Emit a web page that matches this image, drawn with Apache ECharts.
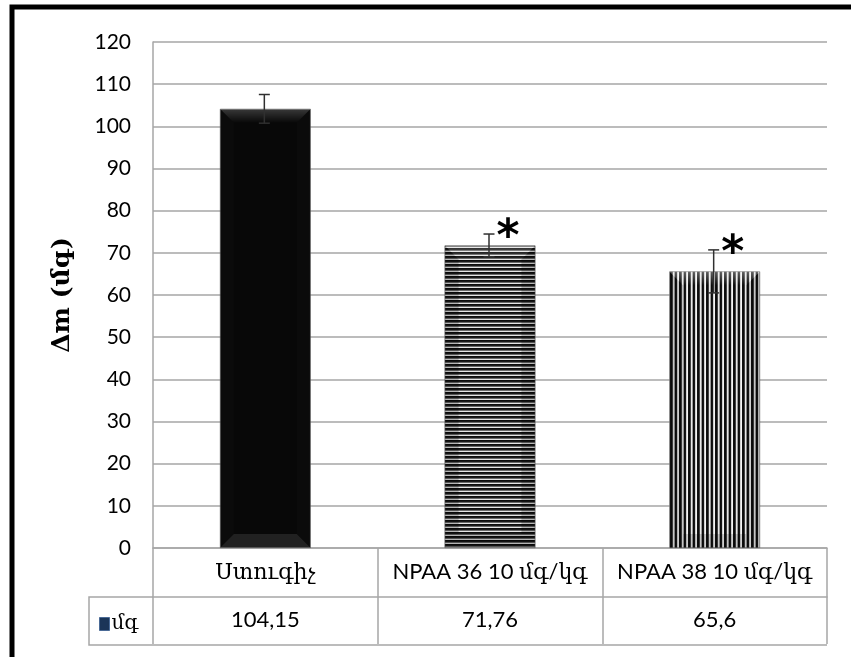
<!DOCTYPE html>
<html>
<head>
<meta charset="utf-8">
<script src="https://cdn.jsdelivr.net/npm/echarts@6/dist/echarts.min.js"></script>
<style>
  html, body { margin: 0; padding: 0; background: #fff; }
  #chart { width: 851px; height: 657px; }
</style>
</head>
<body>
<div id="chart"></div>
<script>
// Body-mass change per group, with standard error and significance marks
const categories = ['Ստուգիչ', 'NPAA 36 10 մգ/կգ', 'NPAA 38 10 մգ/կգ'];
const means = [104.15, 71.76, 65.6];
const errors = [3.4, 2.7, 5.1];
const marks = ['', '*', '*'];
const seriesName = 'մգ';
const yTitle = 'Δm (մգ)';
const yMin = 0, yMax = 120, yStep = 10;

const BAR_RATIO = 0.404;
const GRID = { left: 153, right: 24, top: 42, bottom: 109 };
const ROW_H = 49;
const LINE = '#a6a6a6';
const SANS = 'Lato, "DejaVu Serif", sans-serif';

// Fill patterns for the three bars
function stripes(horizontal, colors) {
  const c = document.createElement('canvas');
  c.width = horizontal ? 4 : colors.length;
  c.height = horizontal ? colors.length : 4;
  const g = c.getContext('2d');
  colors.forEach((col, k) => {
    g.fillStyle = col;
    if (horizontal) g.fillRect(0, k, c.width, 1);
    else g.fillRect(k, 0, 1, c.height);
  });
  return c;
}
const fills = [
  '#080808',
  { image: stripes(true, ['#0c0c0c', '#1a1a1a', '#6a6a6a', '#e4e4e4']), repeat: 'repeat' },
  { image: stripes(false, ['#0c0c0c', '#161616', '#cfcfcf', '#f4f4f4', '#111', '#0c0c0c', '#444', '#e8e8e8', '#9a9a9a']), repeat: 'repeat' }
];
// Bevel shading per bar: top, bottom, sides
const bevels = [
  { top: 'rgba(255,255,255,0.2)', bottom: 'rgba(255,255,255,0.1)', side: 'rgba(255,255,255,0.015)' },
  { top: 'rgba(255,255,255,0.22)', bottom: 'rgba(0,0,0,0.2)', side: 'rgba(0,0,0,0.2)' },
  { top: 'rgba(255,255,255,0.35)', bottom: 'rgba(0,0,0,0.15)', side: 'rgba(0,0,0,0.15)' }
];

const fmt = v => String(v).replace('.', ',');

function barBox(api, i, v) {
  const top = api.coord([i, v]);
  const base = api.coord([i, 0]);
  const w = api.size([1, 0])[0] * BAR_RATIO;
  return { x0: top[0] - w / 2, x1: top[0] + w / 2, yt: top[1], yb: base[1] };
}

const chart = echarts.init(document.getElementById('chart'), null, { renderer: 'canvas' });
chart.setOption({
  animation: false,
  backgroundColor: '#fff',
  grid: GRID,
  legend: {
    data: [{ name: seriesName, icon: 'rect', itemStyle: { color: '#1b3558', borderColor: '#4a6a96', borderWidth: 1 } }],
    selectedMode: false,
    left: 94, top: 609,
    itemWidth: 10, itemHeight: 13, itemGap: 2,
    textStyle: { fontFamily: '"DejaVu Serif", serif', fontSize: 20, color: '#000', padding: [0, 0, 0, -3] }
  },
  xAxis: [
    {
      type: 'category',
      data: categories,
      axisLine: { show: true, lineStyle: { color: LINE, width: 1.5 } },
      axisTick: { show: true, length: ROW_H * 2 - 2, lineStyle: { color: LINE, width: 1.5 } },
      axisLabel: { margin: 24, verticalAlign: 'middle', fontFamily: SANS, fontSize: 22, color: '#000', interval: 0 }
    },
    {
      type: 'category',
      position: 'bottom',
      offset: ROW_H,
      data: means.map(fmt),
      axisLine: { show: true, lineStyle: { color: LINE, width: 1.5 } },
      axisTick: { show: false },
      axisLabel: { margin: 23, verticalAlign: 'middle', fontFamily: SANS, fontSize: 22, color: '#000', interval: 0 }
    }
  ],
  yAxis: {
    type: 'value',
    min: yMin, max: yMax, interval: yStep,
    name: yTitle,
    nameLocation: 'middle',
    nameGap: 78,
    nameRotate: 90,
    nameTextStyle: { fontFamily: '"DejaVu Serif", serif', fontWeight: 'bold', fontSize: 25, color: '#000' },
    axisLine: { show: true, lineStyle: { color: LINE, width: 1.5 } },
    axisTick: { show: false },
    axisLabel: { margin: 22, fontFamily: SANS, fontSize: 21, color: '#000' },
    splitLine: { show: true, lineStyle: { color: LINE, width: 1.5 } }
  },
  series: [
    {
      name: seriesName,
      type: 'bar',
      barWidth: (BAR_RATIO * 100) + '%',
      data: means.map((v, i) => ({ value: v, itemStyle: { color: fills[i], borderColor: '#5a5a5a', borderWidth: 0.6 } })),
      z: 2
    },
    {
      // bevel shading over each bar
      type: 'custom',
      data: means.map((v, i) => [i, v]),
      z: 3,
      silent: true,
      renderItem(params, api) {
        const i = api.value(0);
        const b = barBox(api, i, api.value(1));
        const d = 14;
        const s = bevels[i];
        return {
          type: 'group',
          children: [
            { type: 'polygon', shape: { points: [[b.x0, b.yt], [b.x1, b.yt], [b.x1 - d, b.yt + d], [b.x0 + d, b.yt + d]] },
              style: { fill: new echarts.graphic.LinearGradient(0, 0, 0, 1, [{ offset: 0, color: s.top }, { offset: 1, color: 'rgba(255,255,255,0)' }]) } },
            { type: 'polygon', shape: { points: [[b.x0, b.yb], [b.x1, b.yb], [b.x1 - d, b.yb - d], [b.x0 + d, b.yb - d]] },
              style: { fill: s.bottom } },
            { type: 'polygon', shape: { points: [[b.x0, b.yt], [b.x0 + d, b.yt + d], [b.x0 + d, b.yb - d], [b.x0, b.yb]] },
              style: { fill: s.side } },
            { type: 'polygon', shape: { points: [[b.x1, b.yt], [b.x1 - d, b.yt + d], [b.x1 - d, b.yb - d], [b.x1, b.yb]] },
              style: { fill: s.side } }
          ]
        };
      }
    },
    {
      // error bars
      type: 'custom',
      data: means.map((v, i) => [i, v, errors[i]]),
      z: 4,
      silent: true,
      renderItem(params, api) {
        const i = api.value(0), v = api.value(1), e = api.value(2);
        const hi = api.coord([i, v + e]);
        const lo = api.coord([i, v - e]);
        const h = 5.5;
        const st = { stroke: '#303030', lineWidth: 1.5 };
        return {
          type: 'group',
          children: [
            { type: 'line', shape: { x1: hi[0] - 1, y1: hi[1], x2: lo[0] - 1, y2: lo[1] }, style: st },
            { type: 'line', shape: { x1: hi[0] - 1 - h, y1: hi[1], x2: hi[0] - 1 + h, y2: hi[1] }, style: st },
            { type: 'line', shape: { x1: lo[0] - 1 - h, y1: lo[1], x2: lo[0] - 1 + h, y2: lo[1] }, style: st }
          ]
        };
      }
    },
    {
      // significance marks
      type: 'custom',
      data: means.map((v, i) => [i, v + errors[i]]),
      z: 5,
      silent: true,
      renderItem(params, api) {
        const i = api.value(0);
        if (!marks[i]) return null;
        const p = api.coord([i, api.value(1)]);
        return {
          type: 'text',
          style: {
            x: p[0] + 18, y: p[1] + 5,
            text: marks[i],
            font: 'bold 44px "DejaVu Sans"',
            fill: '#000',
            align: 'center', verticalAlign: 'middle'
          }
        };
      }
    }
  ],
  graphic: [
    // outer frame
    { type: 'rect', shape: { x: 12, y: 7, width: 900, height: 700 }, style: { fill: 'none', stroke: '#000', lineWidth: 5 }, z: 10, silent: true },
    // legend cell of the data table
    { type: 'polyline', shape: { points: [[GRID.left, 548 + ROW_H], [89, 548 + ROW_H], [89, 548 + ROW_H * 2 - 1], [827, 548 + ROW_H * 2 - 1]] },
      style: { stroke: LINE, lineWidth: 1.5, fill: 'none' }, silent: true }
  ]
});
</script>
</body>
</html>
